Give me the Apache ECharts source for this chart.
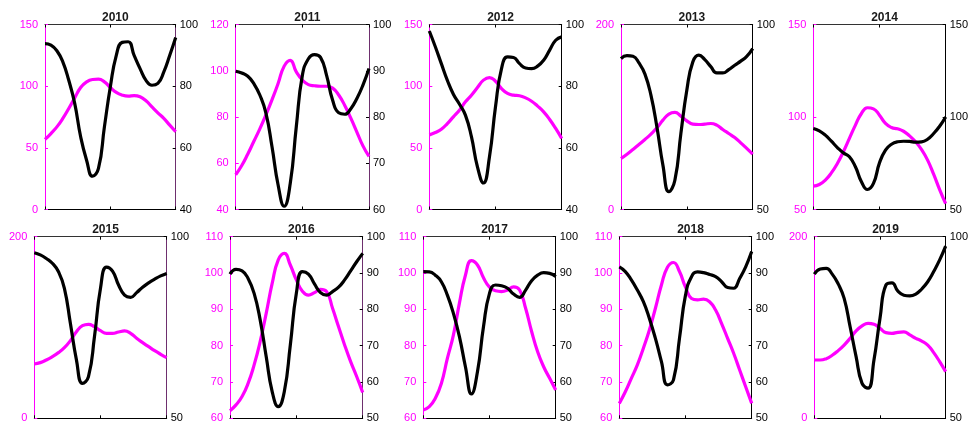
<!DOCTYPE html>
<html>
<head>
<meta charset="utf-8">
<script src="https://cdn.jsdelivr.net/npm/echarts@6/dist/echarts.min.js"></script>
<style>
  html, body { margin: 0; padding: 0; background: #ffffff; }
  #chart { width: 971px; height: 424px; }
</style>
</head>
<body>
<div id="chart"></div>
<script>
// Half-month steps through the year (x positions, labels hidden)
const steps = ['1','1.5','2','2.5','3','3.5','4','4.5','5','5.5','6','6.5',
               '7','7.5','8','8.5','9','9.5','10','10.5','11','11.5','12'];

const years = ['2010','2011','2012','2013','2014','2015','2016','2017','2018','2019'];

// Left-axis series (magenta)
const pink2010 = [56.8,61.6,67,73.8,81.9,90.5,98.9,103.5,105.4,105.7,103.5,98.9,94.9,92.7,91.9,92.4,91.4,88.1,83.2,78.4,73.8,68.4,63];
const pink2011 = [55,59,64,69.5,75,81,87.5,94.5,102,104.5,99.5,96,94,93.5,93.3,93.3,92.5,89.5,85,79.5,73.5,67.5,63];
const pink2012 = [60.5,62.4,65.1,69.7,75.1,80.5,87.3,92.7,98.9,104.9,107,104,98.1,94.1,92.7,92.2,90.5,87.8,83.8,79.2,73,65.7,57.6];
const pink2013 = [55.1,59.8,64.9,70.3,75.7,81.5,88.3,96.6,103.1,104.9,100.9,95.9,92.3,91.9,92.3,93,91.2,86.5,82.2,77.8,72.1,66,59.8];
const pink2014 = [62.6,63.5,65.9,69.8,74.9,81.2,88.4,95.6,101.9,105,104.4,101,96.5,94.3,93.6,92.3,89.8,86.6,82.4,76.7,69.1,60.8,53.2];
const pink2015 = [59.8,61.3,64.2,67.9,72.3,77.8,85.5,95.4,102,103.5,100.9,96.5,93.6,93.6,95.1,96.2,93.6,88.1,83.3,78.9,74.5,70.5,66.8];
const pink2016 = [62.1,63.7,66,69.6,74.7,81.1,88.9,97.2,103.6,105.4,102.2,98.1,95,93.9,94.6,95.5,94.9,90.3,85.2,80.2,75.6,71.5,67.1];
const pink2017 = [62.3,63.2,65.5,69.6,76.5,82.9,91.7,99.4,103.4,102.2,98.7,96.1,95.1,94.9,95.3,96.2,95.3,90.3,83.9,78.3,74.2,71,67.8];
const pink2018 = [64.1,67.3,71,74.7,79.3,84.3,90.3,96.7,101.6,102.9,100.4,96.1,93,92.6,92.8,92.1,89.8,86.1,82,77.9,73.3,68.7,64.1];
const pink2019 = [64.2,64.2,65.7,69.4,74.5,80.7,88.1,96.2,101.7,104.6,103.5,99.1,94.3,93.6,94.7,95.1,91.8,88.1,85.1,80.7,72.3,62.4,51.4];

// Right-axis series (black)
const black2010 = [93.8,93.3,91.5,87.9,81.9,74.4,63.6,56,50.8,53.3,66.8,79.8,90,94.2,94.4,90,85.7,81.9,80.3,80.9,84.6,90,95.8];
const black2011 = [89.9,89.5,88.8,87.2,84.7,80.8,73.5,65.3,60.7,65.6,77.9,89,92.6,93.5,92.9,89,83.6,80.9,80.6,81.8,84,86.9,90.5];
const black2012 = [97.9,92.8,87.3,81.9,77.4,74.2,70.6,63.6,53.8,48.6,57.1,73.3,85.7,89.5,89.3,87.3,85.9,85.7,86.5,88.4,91.7,94.9,96];
const black2013 = [90.8,91.6,91.4,89.6,86.6,80.9,72.3,62,54.8,57.9,70.5,82.3,89.9,91.7,90.5,88.6,86.9,86.9,87.8,89,90.1,91.4,93.5];
const black2014 = [93.8,92.5,90.2,86.9,83.5,80.6,78.5,73.1,65,60.8,64.1,75.2,82.1,85.3,86.6,86.9,86.8,86.4,86.6,88,91.1,95,100];
const black2015 = [95.6,95,94,92.7,90.4,85.8,76.1,66.1,59.6,61.5,72.5,85.8,91.6,90.5,86.7,83.9,83.3,84.6,86.1,87.3,88.3,89.2,89.9];
const black2016 = [89.7,91,90.6,88.5,84.4,77.1,67,57.3,53.2,57.3,70.2,84.4,90.4,89.7,87,84.6,83.9,84.9,86.1,88.1,90.6,93.1,95.4];
const black2017 = [90.4,90.3,89.4,87.6,83.9,78.9,72.5,64.2,56.7,62.8,75.2,84.4,86.7,86.5,85.8,84.2,83.3,85.3,87.9,89.4,90.1,89.9,89];
const black2018 = [91.7,90.4,88.1,85.3,82.1,77.5,72,65.6,59.2,60.6,72,83.9,89,90.3,90.1,89.6,89,87.6,86,85.8,88.5,91.7,95.9];
const black2019 = [89.7,91.1,91.3,89.7,87,83,75.2,67,59.6,58.3,66.1,77.5,86.7,87.3,85,83.9,83.7,84.2,85.6,87.6,90.4,93.6,97.4];

const pinkSeries = [pink2010,pink2011,pink2012,pink2013,pink2014,pink2015,pink2016,pink2017,pink2018,pink2019];
const blackSeries = [black2010,black2011,black2012,black2013,black2014,black2015,black2016,black2017,black2018,black2019];

// Axis ranges: [min, max, step]
const leftRange = [[0,150,50],[40,120,20],[0,150,50],[0,200,200],[50,150,50],
                   [0,200,200],[60,110,10],[60,110,10],[60,110,10],[0,200,200]];
const rightRange = [[40,100,20],[60,100,10],[40,100,20],[50,100,50],[50,150,50],
                    [50,100,50],[50,100,10],[50,100,10],[50,100,10],[50,100,50]];

// Panel boxes in pixels: [left, top, width, height]
const boxes = [
  [45, 24.5, 130.7, 185], [235.7, 24.5, 133.3, 185], [429.3, 24.5, 132.4, 185],
  [621, 24.5, 131.7, 185], [813.3, 24.5, 132.4, 185],
  [34.3, 236.7, 132.4, 181.6], [230, 236.7, 132.7, 181.6], [423.3, 236.7, 132.4, 181.6],
  [619.3, 236.7, 132.4, 181.6], [814.3, 236.7, 132.4, 181.6]
];
const rightSpine = ['#6e2f6e','#6e2f6e','#000','#000','#000','#6e2f6e','#6e2f6e','#000','#000','#000'];

const MAGENTA = '#ff00ff';
const FONT = '"Liberation Sans", Arial, Helvetica, sans-serif';

const grid = [], xAxis = [], yAxis = [], series = [], title = [];

boxes.forEach(function (b, i) {
  grid.push({ left: b[0], top: b[1], width: b[2], height: b[3], containLabel: false });
  title.push({
    text: years[i], left: b[0] + b[2] / 2, top: b[1] - 18, textAlign: 'center',
    textStyle: { fontFamily: FONT, fontSize: 12, fontWeight: 'bold', color: '#1a1a1a' }
  });
  ['bottom', 'top'].forEach(function (pos) {
    xAxis.push({
      type: 'category', gridIndex: i, position: pos, data: steps, boundaryGap: false,
      axisLine: { show: true, onZero: false, lineStyle: { color: pos === 'bottom' ? '#000' : '#333', width: 1 } },
      axisTick: { show: true, inside: true, length: 3, interval: 10, lineStyle: { color: '#000' } },
      axisLabel: { show: false }, splitLine: { show: false }
    });
  });
  const L = leftRange[i], R = rightRange[i];
  yAxis.push({
    type: 'value', gridIndex: i, position: 'left', min: L[0], max: L[1], interval: L[2],
    axisLine: { show: true, onZero: false, lineStyle: { color: MAGENTA, width: 1 } },
    axisTick: { show: true, inside: true, length: 3, lineStyle: { color: MAGENTA } },
    axisLabel: { color: MAGENTA, fontSize: 11, fontFamily: FONT, margin: 7 },
    splitLine: { show: false }
  });
  yAxis.push({
    type: 'value', gridIndex: i, position: 'right', min: R[0], max: R[1], interval: R[2],
    axisLine: { show: true, onZero: false, lineStyle: { color: rightSpine[i], width: 1 } },
    axisTick: { show: true, inside: true, length: 3, lineStyle: { color: '#000' } },
    axisLabel: { color: '#000', fontSize: 11, fontFamily: FONT, margin: 4 },
    splitLine: { show: false }
  });
  series.push({
    type: 'line', xAxisIndex: 2 * i, yAxisIndex: 2 * i, data: pinkSeries[i],
    smooth: true, showSymbol: false, lineStyle: { color: MAGENTA, width: 3.2 },
    itemStyle: { color: MAGENTA }, silent: true, z: 2
  });
  series.push({
    type: 'line', xAxisIndex: 2 * i, yAxisIndex: 2 * i + 1, data: blackSeries[i],
    smooth: true, showSymbol: false, lineStyle: { color: '#000', width: 3.2 },
    itemStyle: { color: '#000' }, silent: true, z: 3
  });
});

const chart = echarts.init(document.getElementById('chart'), null, { renderer: 'canvas' });
chart.setOption({
  animation: false,
  backgroundColor: '#ffffff',
  title: title, grid: grid, xAxis: xAxis, yAxis: yAxis, series: series
});
</script>
</body>
</html>
